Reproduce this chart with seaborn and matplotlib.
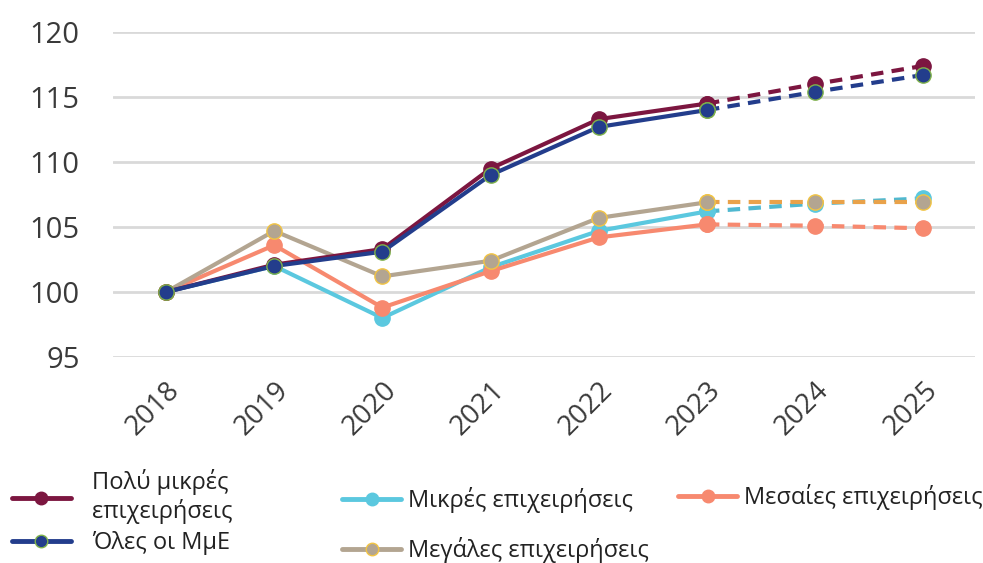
import pandas as pd
import seaborn as sns
import matplotlib.pyplot as plt
from matplotlib.lines import Line2D

years = [2018, 2019, 2020, 2021, 2022, 2023, 2024, 2025]
last_actual = 2023

polu_mikres = [100, 102.1, 103.3, 109.5, 113.3, 114.5, 116.0, 117.4]
mikres = [100, 102.0, 98.0, 101.9, 104.7, 106.2, 106.8, 107.2]
mesaies = [100, 103.6, 98.8, 101.6, 104.2, 105.2, 105.1, 104.9]
megales = [100, 104.7, 101.2, 102.4, 105.7, 106.9, 106.9, 106.9]
oles = [100, 102.0, 103.1, 109.0, 112.7, 114.0, 115.4, 116.7]

# drawing order: later ones sit on top
series = [
    ("Μικρές επιχειρήσεις", mikres, "#5BC8DF", "#5BC8DF", "#4FB8D0"),
    ("Μεσαίες επιχειρήσεις", mesaies, "#F7896F", "#F7896F", "#F7896F"),
    ("Μεγάλες επιχειρήσεις", megales, "#B3A591", "#F2C443", "#E9A24A"),
    ("Πολύ μικρές\nεπιχειρήσεις", polu_mikres, "#7C1640", "#7C1640", "#7C1640"),
    ("Όλες οι ΜμΕ", oles, "#233D8C", "#7FB24A", "#233D8C"),
]

sns.set_theme(style="white")
plt.rcParams['font.family'] = ['Open Sans', 'DejaVu Sans']

fig = plt.figure(figsize=(9.83, 5.63), dpi=100)
ax = fig.add_axes([0.115, 0.366, 0.877, 0.577])

handles = {}
for name, vals, col, edge, dashcol in series:
    df = pd.DataFrame({"year": years, "value": vals})
    solid = df[df.year <= last_actual]
    dashed = df[df.year >= last_actual]
    sns.lineplot(data=dashed, x="year", y="value", ax=ax, color=dashcol,
                 linewidth=3, linestyle=(0, (3, 2)), marker="o", markersize=11,
                 markerfacecolor=col, markeredgecolor=edge, markeredgewidth=1,
                 clip_on=False)
    sns.lineplot(data=solid, x="year", y="value", ax=ax, color=col,
                 linewidth=3, marker="o", markersize=11,
                 markerfacecolor=col, markeredgecolor=edge, markeredgewidth=1,
                 clip_on=False)
    handles[name] = Line2D([], [], color=col, linewidth=3.5, marker="o",
                           markersize=9, markerfacecolor=col,
                           markeredgecolor=edge)

ax.set_xlim(2018 - 0.49, 2025 + 0.48)
ax.set_ylim(95, 120)
ax.set_yticks([95, 100, 105, 110, 115, 120])
ax.set_xticks(years)
ax.set_xticklabels([str(y) for y in years], rotation=45, ha="right",
                   rotation_mode="anchor")
ax.tick_params(axis="both", colors="#3A3A3A", length=0)
ax.tick_params(axis="y", labelsize=21, pad=24)
ax.tick_params(axis="x", labelsize=20, pad=14)
ax.set_xlabel("")
ax.set_ylabel("")
ax.grid(axis="y", color="#D9D9D9", linewidth=2)
ax.set_axisbelow(True)
sns.despine(ax=ax, left=True, bottom=True)

# three legend columns placed separately, like the reference
leg_kw = dict(loc="center left", frameon=False, fontsize=17,
              handlelength=2.5, labelcolor="#222222")
columns = [
    (["Πολύ μικρές\nεπιχειρήσεις", "Όλες οι ΜμΕ"], 0.012, 0.09, 0.9, 0.3),
    (["Μικρές επιχειρήσεις", "Μεγάλες επιχειρήσεις"], 0.348, 0.067, 0.3, 1.0),
    (["Μεσαίες επιχειρήσεις"], 0.69, 0.117, 0.3, 0.5),
]
for names, x0, y0, pad, spacing in columns:
    fig.legend([handles[k] for k in names], names,
               bbox_to_anchor=(x0, y0), handletextpad=pad,
               labelspacing=spacing, borderaxespad=0, borderpad=0, **leg_kw)

fig.savefig("out.png", dpi=100)
